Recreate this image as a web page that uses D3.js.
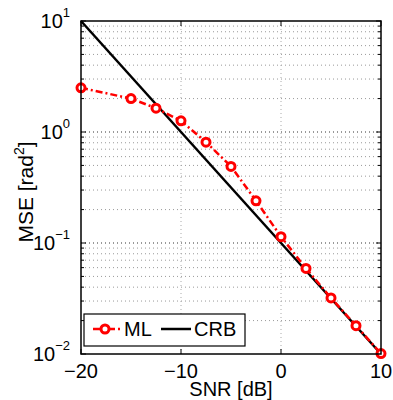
<!DOCTYPE html>
<html lang="en">
<head>
<meta charset="UTF-8">
<title>MSE vs SNR</title>
<style>
  body { margin: 0; background: #fff; }
  text { font-family: "Liberation Sans", Arial, sans-serif; fill: #000; }
</style>
<script src="https://d3js.org/d3.v7.min.js"></script>
</head>
<body>
<div id="chart"></div>
<script>
// data
var snr = [-20, -15, -12.5, -10, -7.5, -5, -2.5, 0, 2.5, 5, 7.5, 10];
var mseML = [2.5, 2.0, 1.64, 1.26, 0.81, 0.49, 0.24, 0.114, 0.059, 0.032, 0.018, 0.0101];
var crbX = [-20, 10];
var crbY = [10, 0.01];
var xTicks = [-20, -10, 0, 10];
var yTicks = [0.01, 0.1, 1, 10];

var W = 393, H = 400;
var margin = {top: 21, right: 12, bottom: 46, left: 81};

var x = d3.scaleLinear().domain([-20, 10]).range([margin.left, W - margin.right]);
var y = d3.scaleLog().domain([0.01, 10]).range([H - margin.bottom, margin.top]);

var svg = d3.select("#chart").append("svg")
    .attr("width", W)
    .attr("height", H);

var x0 = x.range()[0], x1 = x.range()[1];
var y0 = y.range()[0], y1 = y.range()[1];

// minor y values
var minorY = [];
[0.01, 0.1, 1].forEach(function(dec) {
  for (var k = 2; k <= 9; k++) minorY.push(dec * k);
});

var grid = svg.append("g");
grid.selectAll(".gy-minor").data(minorY).enter().append("line")
    .attr("x1", x0).attr("x2", x1)
    .attr("y1", function(d) { return y(d); }).attr("y2", function(d) { return y(d); })
    .attr("stroke", "#999").attr("stroke-width", 1)
    .attr("stroke-dasharray", "1,3");
grid.selectAll(".gy-major").data(yTicks.slice(1, 3)).enter().append("line")
    .attr("x1", x0).attr("x2", x1)
    .attr("y1", function(d) { return y(d); }).attr("y2", function(d) { return y(d); })
    .attr("stroke", "#333").attr("stroke-width", 1)
    .attr("stroke-dasharray", "1,3");
grid.selectAll(".gx").data(xTicks.slice(1, 3)).enter().append("line")
    .attr("y1", y0).attr("y2", y1)
    .attr("x1", function(d) { return x(d); }).attr("x2", function(d) { return x(d); })
    .attr("stroke", "#aaa").attr("stroke-width", 1)
    .attr("stroke-dasharray", "1,3");

// inner ticks
var ticks = svg.append("g").attr("stroke", "#000").attr("stroke-width", 1);
minorY.forEach(function(d) {
  ticks.append("line").attr("x1", x0).attr("x2", x0 + 3).attr("y1", y(d)).attr("y2", y(d));
  ticks.append("line").attr("x1", x1).attr("x2", x1 - 3).attr("y1", y(d)).attr("y2", y(d));
});
yTicks.forEach(function(d) {
  ticks.append("line").attr("x1", x0).attr("x2", x0 + 5).attr("y1", y(d)).attr("y2", y(d));
  ticks.append("line").attr("x1", x1).attr("x2", x1 - 5).attr("y1", y(d)).attr("y2", y(d));
});
xTicks.forEach(function(d) {
  ticks.append("line").attr("x1", x(d)).attr("x2", x(d)).attr("y1", y0).attr("y2", y0 - 5);
  ticks.append("line").attr("x1", x(d)).attr("x2", x(d)).attr("y1", y1).attr("y2", y1 + 5);
});

// CRB line
var line = d3.line()
    .x(function(d) { return x(d[0]); })
    .y(function(d) { return y(d[1]); });

svg.append("path")
    .datum(d3.zip(crbX, crbY))
    .attr("d", line)
    .attr("fill", "none")
    .attr("stroke", "#000")
    .attr("stroke-width", 2.5);

// ML line
svg.append("path")
    .datum(d3.zip(snr, mseML))
    .attr("d", line)
    .attr("fill", "none")
    .attr("stroke", "#f00")
    .attr("stroke-width", 2.5)
    .attr("stroke-dasharray", "7,3,2,3");

svg.selectAll(".pt").data(d3.zip(snr, mseML)).enter().append("circle")
    .attr("cx", function(d) { return x(d[0]); })
    .attr("cy", function(d) { return y(d[1]); })
    .attr("r", 4)
    .attr("fill", "#fff")
    .attr("stroke", "#f00")
    .attr("stroke-width", 3);

// box
svg.append("rect")
    .attr("x", x0).attr("y", y1)
    .attr("width", x1 - x0).attr("height", y0 - y1)
    .attr("fill", "none").attr("stroke", "#000").attr("stroke-width", 1.5);

// x tick labels
svg.selectAll(".xl").data(xTicks).enter().append("text")
    .attr("x", function(d) { return x(d); })
    .attr("y", y0 + 24)
    .attr("text-anchor", "middle")
    .attr("font-size", "20px")
    .text(function(d) { return d < 0 ? "\u2212" + Math.abs(d) : d; });

// y tick labels
var yl = svg.selectAll(".yl").data(yTicks).enter().append("text")
    .attr("x", x0 - 11)
    .attr("y", function(d) { return y(d) + 7; })
    .attr("text-anchor", "end")
    .attr("font-size", "20px");
yl.append("tspan").text("10");
yl.append("tspan")
    .attr("font-size", "13px")
    .attr("dy", "-11")
    .text(function(d) { var e = Math.round(Math.log10(d)); return e < 0 ? "\u2212" + Math.abs(e) : e; });

// axis labels
svg.append("text")
    .attr("x", (x0 + x1) / 2)
    .attr("y", H - 4)
    .attr("text-anchor", "middle")
    .attr("font-size", "20px")
    .text("SNR [dB]");

var ylab = svg.append("text")
    .attr("transform", "translate(33,192) rotate(-90)")
    .attr("text-anchor", "middle")
    .attr("font-size", "21px");
ylab.append("tspan").text("MSE [rad");
ylab.append("tspan").attr("font-size", "14px").attr("dy", "-9").text("2");
ylab.append("tspan").attr("dy", "9").text("]");

// legend
var lg = svg.append("g").attr("transform", "translate(84,314)");
lg.append("rect")
    .attr("width", 161).attr("height", 32)
    .attr("fill", "#fff").attr("stroke", "#000").attr("stroke-width", 1.2);
lg.append("line")
    .attr("x1", 6).attr("x2", 37).attr("y1", 15).attr("y2", 15)
    .attr("stroke", "#f00").attr("stroke-width", 2.5)
    .attr("stroke-dasharray", "7,3,2,3").attr("stroke-dashoffset", -3);
lg.append("circle")
    .attr("cx", 21).attr("cy", 15).attr("r", 4)
    .attr("fill", "#fff").attr("stroke", "#f00").attr("stroke-width", 3);
lg.append("text").attr("x", 40).attr("y", 22).attr("font-size", "20px").text("ML");
lg.append("line")
    .attr("x1", 77).attr("x2", 107).attr("y1", 15).attr("y2", 15)
    .attr("stroke", "#000").attr("stroke-width", 2.5);
lg.append("text").attr("x", 110).attr("y", 22).attr("font-size", "20px").text("CRB");
</script>
</body>
</html>
